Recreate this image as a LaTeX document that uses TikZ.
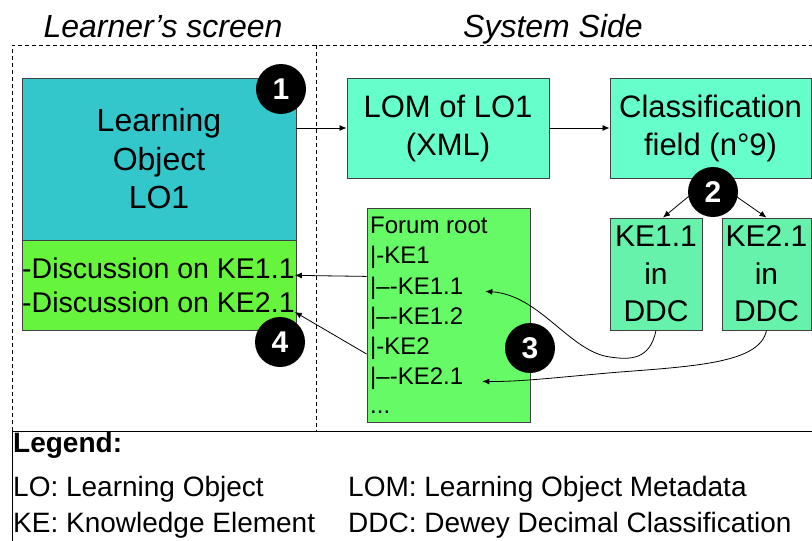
\documentclass[tikz,border=0pt]{standalone}
\usepackage{fontspec}
\setmainfont{Liberation Sans}
\usetikzlibrary{arrows.meta}

\definecolor{loteal}{RGB}{51,199,204}
\definecolor{discgreen}{RGB}{102,245,60}
\definecolor{forumgreen}{RGB}{102,250,102}
\definecolor{metamint}{RGB}{102,255,204}
\definecolor{kemint}{RGB}{102,242,170}

\begin{document}
\begin{tikzpicture}[x=1pt,y=-1pt,
  boxstyle/.style={draw=black!75, line width=0.9pt, inner sep=0pt, align=center},
  numdot/.style={circle, fill=black, text=white, minimum size=50pt, inner sep=0pt,
    font=\fontsize{30}{30}\selectfont\bfseries},
  linkarrow/.style={line width=0.8pt, -{Latex[length=7pt,width=6pt]}},
  framedash/.style={line width=0.8pt, dash pattern=on 4pt off 3pt},
  bigtext/.style={font=\fontsize{31}{38}\selectfont},
  linetext/.style={inner sep=0pt, anchor=base west}]
  \useasboundingbox (0,0) rectangle (812,541);

  % Titles
  \node[anchor=base, font=\fontsize{32}{38}\selectfont\itshape] (tlearner) at (163,37) {Learner's screen};
  \node[anchor=base, font=\fontsize{32}{38}\selectfont\itshape] (tsystem) at (553,37) {System Side};

  % Frame
  \draw[framedash] (12,431) -- (12,45) -- (812,45);
  \draw[framedash] (316,45) -- (316,431);
  \draw[line width=0.9pt] (12,541) -- (12,431) -- (812,431);

  % Learner's screen
  \node[boxstyle, fill=loteal, minimum width=274pt, minimum height=162pt,
    font=\fontsize{32}{38.5}\selectfont] (lo) at (159,159) {Learning\\Object\\LO1};
  \node[boxstyle, fill=discgreen, minimum width=274pt, minimum height=90pt] (disc) at (159,285) {};
  \node[linetext, font=\fontsize{28.5}{34}\selectfont] (d1) at (22,278) {-Discussion on KE1.1};
  \node[linetext, font=\fontsize{28.5}{34}\selectfont] (d2) at (22,312) {-Discussion on KE2.1};

  % System side
  \node[boxstyle, bigtext, fill=metamint, minimum width=202pt, minimum height=100pt] (lom) at (448,128) {LOM of LO1\\(XML)};
  \node[boxstyle, bigtext, fill=metamint, minimum width=201pt, minimum height=100pt] (cls) at (710.5,128) {Classification\\field (n°9)};
  \node[boxstyle, fill=kemint, minimum width=92pt, minimum height=112pt,
    font=\fontsize{30}{37.5}\selectfont] (ke1) at (656,274) {KE1.1\\in\\DDC};
  \node[boxstyle, fill=kemint, minimum width=89pt, minimum height=112pt,
    font=\fontsize{30}{37.5}\selectfont] (ke2) at (766.5,274) {KE2.1\\in\\DDC};

  % Forum tree
  \node[boxstyle, fill=forumgreen, minimum width=163pt, minimum height=214pt] (forum) at (448.5,315) {};
  \node[linetext, font=\fontsize{24}{30}\selectfont] (f0) at (370,233) {Forum root};
  \node[linetext, font=\fontsize{24}{30}\selectfont] (f1) at (370,263) {|-KE1};
  \node[linetext, font=\fontsize{24}{30}\selectfont] (f2) at (370,294) {|\textendash{}-KE1.1};
  \node[linetext, font=\fontsize{24}{30}\selectfont] (f3) at (370,324) {|\textendash{}-KE1.2};
  \node[linetext, font=\fontsize{24}{30}\selectfont] (f4) at (370,354) {|-KE2};
  \node[linetext, font=\fontsize{24}{30}\selectfont] (f5) at (370,384) {|\textendash{}-KE2.1};
  \node[linetext, font=\fontsize{24}{30}\selectfont] (f6) at (370,413) {...};

  % Arrows
  \draw[linkarrow] (lom.west -| lo.east) -- (lom.west);
  \draw[linkarrow] (lom.east) -- (cls.west);
  \draw[linkarrow] (cls.south) -- ([xshift=7pt]ke1.north);
  \draw[linkarrow] (cls.south) -- (ke2.north);
  \draw[linkarrow] (forum.west |- f2.north) -- (d1.mid east);
  \draw[linkarrow] (forum.west |- f4.base) -- (d2.base east);
  \draw[linkarrow] (ke1.south) .. controls (650,360) and (630,360) .. (610,357)
    .. controls (570,352) and (540,295) .. ([xshift=22pt]f2.mid east);
  \draw[linkarrow] (ke2.south) .. controls (760,362) and (700,366) .. (620,372)
    .. controls (560,377) and (520,382) .. ([xshift=19pt]f5.mid east);

  % Step numbers
  \node[numdot] (n1) at (281,89) {1};
  \node[numdot] (n2) at (713,192) {2};
  \node[numdot] (n3) at (530,348) {3};
  \node[numdot] (n4) at (280,342) {4};

  % Legend
  \node[linetext, font=\fontsize{28}{34}\selectfont\bfseries] (leg) at (13,452) {Legend:};
  \node[linetext, font=\fontsize{28}{34}\selectfont] (leglo) at (13,496) {LO: Learning Object};
  \node[linetext, font=\fontsize{28}{34}\selectfont] (legke) at (13,532) {KE: Knowledge Element};
  \node[linetext, font=\fontsize{28}{34}\selectfont] (leglom) at (348,496) {LOM: Learning Object Metadata};
  \node[linetext, font=\fontsize{28}{34}\selectfont] (legddc) at (348,532) {DDC: Dewey Decimal Classification};
\end{tikzpicture}
\end{document}
